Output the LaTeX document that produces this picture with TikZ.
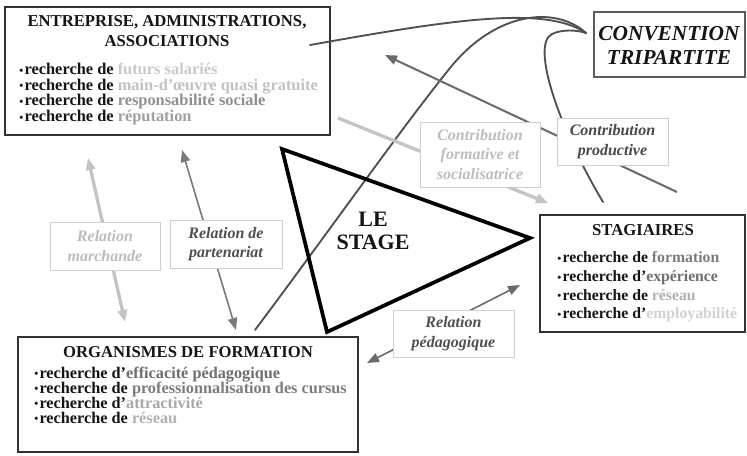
\documentclass[tikz,border=0pt]{standalone}
\usepackage{fontspec}
\setmainfont{Liberation Serif}
\usetikzlibrary{fit,arrows.meta}
\definecolor{boxc}{HTML}{333333}
\definecolor{labc}{HTML}{CFCFCF}
\definecolor{convc}{HTML}{505050}
\definecolor{txtk}{HTML}{151515}
\definecolor{ga}{HTML}{CACACA}
\definecolor{gb}{HTML}{C2C2C2}
\definecolor{gc}{HTML}{909090}
\definecolor{gd}{HTML}{A0A0A0}
\definecolor{ge}{HTML}{7C7C7C}
\definecolor{gf}{HTML}{6E6E6E}
\definecolor{gg}{HTML}{B0B0B0}
\definecolor{gh}{HTML}{D2D2D2}
\definecolor{gi}{HTML}{A8A8A8}
\definecolor{lightarr}{HTML}{C4C4C4}
\definecolor{midarr}{HTML}{7A7A7A}
\definecolor{darkarr}{HTML}{6A6A6A}
\definecolor{labdark}{HTML}{505050}
\definecolor{lablight}{HTML}{BDBDBD}
\newcommand{\blt}{{\fontsize{8.5}{8}\selectfont\raisebox{0.3pt}{\textbullet}}\hspace{1pt}}
\begin{document}
\begin{tikzpicture}[x=0.75pt,y=-0.75pt,
  mainbox/.style={draw=boxc, line width=1.4pt, fill=white, inner sep=0pt},
  convbox/.style={draw=boxc!80, line width=0.8pt, fill=white, inner sep=0pt},
  labbox/.style={draw=labc, line width=0.7pt, fill=white, inner sep=0pt},
  titletxt/.style={font=\fontsize{12.5}{15}\selectfont\bfseries, text=txtk, align=center, inner sep=0pt},
  itemtxt/.style={font=\fontsize{12.3}{11.8}\selectfont\bfseries, text=txtk, align=left, inner sep=0pt},
  labtxt/.style={font=\fontsize{12}{14.5}\selectfont\bfseries\itshape, align=center, inner sep=0pt},
  conn/.style={draw=convc, line width=1.4pt, line cap=round},
  tip/.style={-{Triangle[length=9pt,width=7pt]}},
  tips/.style={{Triangle[length=9pt,width=7pt]}-{Triangle[length=9pt,width=7pt]}}
]
\useasboundingbox (0,0) rectangle (747,455);
\fill[white] (0,0) rectangle (747,455);

% main boxes
\node[mainbox, fit={(5,7)(330,135)}] (ent) {};
\node[mainbox, fit={(540,215)(745,332)}] (stag) {};
\node[mainbox, fit={(18,337)(358,452)}] (org) {};
\node[convbox, fit={(594,12)(745,77)}] (conv) {};

% box texts
\node[titletxt] (entT) at (167,31) {ENTREPRISE, ADMINISTRATIONS,\\ASSOCIATIONS};
\node[itemtxt, anchor=west] (entL) at (19,94) {\blt recherche de \textcolor{ga}{futurs salariés}\\
\blt recherche de \textcolor{gb}{main-d'œuvre quasi gratuite}\\
\blt recherche de \textcolor{gc}{responsabilité sociale}\\
\blt recherche de \textcolor{gd}{réputation}};

\node[titletxt] (stagT) at (643,230) {STAGIAIRES};
\node[itemtxt, font=\fontsize{11.8}{14}\selectfont\bfseries, anchor=west] (stagL) at (557,287) {\blt recherche de \textcolor{ge}{formation}\\
\blt recherche d'\textcolor{gf}{expérience}\\
\blt recherche de \textcolor{gg}{réseau}\\
\blt recherche d'\textcolor{gh}{employabilité}};

\node[titletxt] (orgT) at (188,352) {ORGANISMES DE FORMATION};
\node[itemtxt, font=\fontsize{12.2}{11.3}\selectfont\bfseries, anchor=west] (orgL) at (34,395) {\blt recherche d'\textcolor{gf}{efficacité pédagogique}\\
\blt recherche de \textcolor{ge}{professionnalisation des cursus}\\
\blt recherche d'\textcolor{gi}{attractivité}\\
\blt recherche de \textcolor{gg}{réseau}};

\node[font=\fontsize{16}{18}\selectfont\bfseries\itshape, text=txtk, align=center, inner sep=0pt] (convT) at (669,45) {CONVENTION\\TRIPARTITE};

% curves to the convention
\coordinate (cv) at (586,33);
\coordinate (a0) at (310,45);
\coordinate (b0) at (255,330);
\coordinate (d0) at (603,202);
\draw[conn] (a0) .. controls (450,20) and (545,5) .. (cv);
\draw[conn] (b0) .. controls (330,230) and (400,130) .. (450,68) .. controls (495,12) and (555,5) .. (cv);
\draw[conn] (d0) .. controls (560,130) and (530,45) .. (552,34) .. controls (562,29) and (578,30) .. (cv);

% arrows
\coordinate (pr1) at (677,192); \coordinate (pr2) at (385,55);
\draw[draw=darkarr, fill=darkarr, line width=1.5pt, tip] (pr1) -- (pr2);
\coordinate (fo1) at (338,118); \coordinate (fo2) at (548,203);
\draw[draw=lightarr, fill=lightarr, line width=2.5pt, tip] (fo1) -- (fo2);
\coordinate (ma1) at (88,158); \coordinate (ma2) at (125,322);
\draw[draw=lightarr, fill=lightarr, line width=2.5pt, tips] (ma1) -- (ma2);
\coordinate (pa1) at (182,150); \coordinate (pa2) at (236,330);
\draw[draw=midarr, fill=midarr, line width=1.2pt, tips] (pa1) -- (pa2);
\coordinate (pe1) at (520,285); \coordinate (pe2) at (367,363);
\draw[draw=darkarr, fill=darkarr, line width=1.2pt, tips] (pe1) -- (pe2);

% triangle
\draw[line width=2.8pt, line join=miter] (282,149) -- (530,238) -- (327,332) -- cycle;
\node[font=\fontsize{16.5}{17}\selectfont\bfseries, text=txtk, align=center, inner sep=0pt] (stage) at (373,231) {LE\\STAGE};

% label boxes
\node[labbox, fit={(50,222)(160,270)}] (lm) {};
\node[labtxt, text=lablight] (lmT) at (lm.center) {Relation\\marchande};
\node[labbox, fit={(170,220)(282,268)}] (lp) {};
\node[labtxt, text=labdark] (lpT) at (lp.center) {Relation de\\partenariat};
\node[labbox, fit={(420,122)(540,187)}] (cf) {};
\node[labtxt, text=lablight] (cfT) at (cf.center) {Contribution\\formative et\\socialisatrice};
\node[labbox, fit={(557,118)(668,165)}] (cp) {};
\node[labtxt, text=labdark!90!black] (cpT) at (cp.center) {Contribution\\productive};
\node[labbox, fit={(393,310)(514,357)}] (rp) {};
\node[labtxt, text=labdark] (rpT) at (rp.center) {Relation\\pédagogique};
\end{tikzpicture}
\end{document}
